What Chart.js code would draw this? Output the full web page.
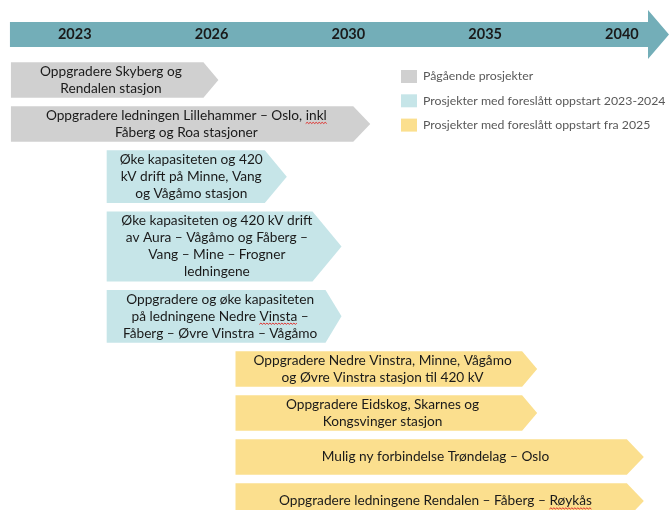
<!DOCTYPE html>
<html>
<head>
<meta charset="utf-8">
<script src="https://cdn.jsdelivr.net/npm/chart.js@4"></script>
<style>
html,body{margin:0;padding:0;background:#ffffff;}
canvas{display:block;}
</style>
</head>
<body>
<canvas id="c" width="669" height="510"></canvas>
<script>
// ---------------- DATA ----------------
const years = [2023, 2026, 2030, 2035, 2040];

const categories = [
  'Pågående prosjekter',
  'Prosjekter med foreslått oppstart 2023-2024',
  'Prosjekter med foreslått oppstart fra 2025'
];

const projects = [
  ['Oppgradere Skyberg og', 'Rendalen stasjon'],
  ['Oppgradere ledningen Lillehammer – Oslo, inkl', 'Fåberg og Roa stasjoner'],
  ['Øke kapasiteten og 420', 'kV drift på Minne, Vang', 'og Vågåmo stasjon'],
  ['Øke kapasiteten og 420 kV drift', 'av Aura – Vågåmo og Fåberg –', 'Vang – Mine – Frogner', 'ledningene'],
  ['Oppgradere og øke kapasiteten', 'på ledningene Nedre Vinsta –', 'Fåberg – Øvre Vinstra – Vågåmo'],
  ['Oppgradere Nedre Vinstra, Minne, Vågåmo', 'og Øvre Vinstra stasjon til 420 kV'],
  ['Oppgradere Eidskog, Skarnes og', 'Kongsvinger stasjon'],
  ['Mulig ny forbindelse Trøndelag – Oslo'],
  ['Oppgradere ledningene Rendalen – Fåberg – Røykås']
];

const projectCategory = [0, 0, 1, 1, 1, 2, 2, 2, 2];
const startYear = [2021.6, 2021.6, 2023.7, 2023.7, 2023.7, 2026.7, 2026.7, 2026.7, 2026.7];
const endYear   = [2026.2, 2030.8, 2028.2, 2029.8, 2029.8, 2036.9, 2036.9, 2040.8, 2040.8];
const timelineRange = [2021.36, 2041.72];

// words marked by the spell checker in the original
const spellMarked = [null, 'inkl', null, null, 'Vinsta', null, null, null, 'Røykås'];

// ---------------- STYLE ----------------
const COLORS = ['#D0D0D0', '#C6E5E8', '#FBDF8E'];
const AXIS_COLOR = '#73AEB8';
const HEAD_DEPTH = [15, 17, 22, 29, 16, 15, 15, 17, 17];
const FONT = 'Lato, "Open Sans", "DejaVu Sans", sans-serif';
const TEXT_SIZE = 13.7;
const LINE_H = 17;
const ROW_GAP = 0.5, ROW_PAD = 0.06;

// piecewise-linear position of a year on the (evenly spaced) timeline
function yearToPos(y) {
  let i;
  if (y <= years[0]) i = 0;
  else if (y >= years[years.length - 1]) i = years.length - 2;
  else { i = 0; while (y > years[i + 1]) i++; }
  return i + (y - years[i]) / (years[i + 1] - years[i]);
}

// row layout in "text line" units
const rows = [];
let cursor = ROW_GAP / 2;
projects.forEach(lines => {
  const h = Math.max(2, lines.length) + ROW_PAD;
  rows.push({ top: cursor, bottom: cursor + h });
  cursor += h + ROW_GAP;
});

const datasets = categories.map((label, c) => ({
  label,
  backgroundColor: COLORS[c],
  grouped: false,
  data: projects
    .map((p, i) => i)
    .filter(i => projectCategory[i] === c)
    .map(i => ({ x: [yearToPos(startYear[i]), yearToPos(endYear[i])], y: (rows[i].top + rows[i].bottom) / 2, idx: i }))
}));

// teal timeline arrow behind the year ticks
const timelineArrow = {
  id: 'timelineArrow',
  beforeDraw(chart) {
    const ctx = chart.ctx, xs = chart.scales.x;
    const left = xs.getPixelForValue(yearToPos(startYear[0])) - 1;
    const right = chart.width;
    const cy = 34.5, hh = 12.5, headH = 24.5, headL = 21;
    ctx.save();
    ctx.fillStyle = AXIS_COLOR;
    ctx.beginPath();
    ctx.moveTo(left, cy - hh);
    ctx.lineTo(right - headL, cy - hh);
    ctx.lineTo(right - headL, cy - headH);
    ctx.lineTo(right, cy);
    ctx.lineTo(right - headL, cy + headH);
    ctx.lineTo(right - headL, cy + hh);
    ctx.lineTo(left, cy + hh);
    ctx.closePath();
    ctx.fill();
    ctx.restore();
  }
};

function squiggle(ctx, x0, x1, y) {
  ctx.save();
  ctx.strokeStyle = '#E0302C';
  ctx.lineWidth = 1;
  ctx.beginPath();
  let up = true;
  ctx.moveTo(x0, y);
  for (let x = x0 + 1.5; x <= x1; x += 1.5) {
    ctx.lineTo(x, up ? y - 1.2 : y);
    up = !up;
  }
  ctx.stroke();
  ctx.restore();
}

// pentagon-shaped bars with centred labels
const arrowBars = {
  id: 'arrowBars',
  beforeDatasetDraw() { return false; },
  afterDatasetsDraw(chart) {
    const ctx = chart.ctx, ys = chart.scales.y;
    chart.data.datasets.forEach((ds, di) => {
      const meta = chart.getDatasetMeta(di);
      meta.data.forEach((el, j) => {
        const i = ds.data[j].idx;
        const { x, base } = el.getProps(['x', 'base'], true);
        const left = Math.min(x, base), right = Math.max(x, base);
        const top = ys.getPixelForValue(rows[i].top);
        const bottom = ys.getPixelForValue(rows[i].bottom);
        const mid = (top + bottom) / 2;
        const d = HEAD_DEPTH[i];
        ctx.save();
        ctx.fillStyle = ds.backgroundColor;
        ctx.beginPath();
        ctx.moveTo(left, top);
        ctx.lineTo(right - d, top);
        ctx.lineTo(right, mid);
        ctx.lineTo(right - d, bottom);
        ctx.lineTo(left, bottom);
        ctx.closePath();
        ctx.fill();

        const lines = projects[i];
        const cx = (left + right - d) / 2 + d * 0.25;
        ctx.font = TEXT_SIZE + 'px ' + FONT;
        ctx.fillStyle = '#1A1A1A';
        ctx.textAlign = 'center';
        ctx.textBaseline = 'middle';
        lines.forEach((line, k) => {
          const ly = mid + (k - (lines.length - 1) / 2) * LINE_H;
          ctx.fillText(line, cx, ly);
          const w = spellMarked[i];
          const pos = w ? line.indexOf(w) : -1;
          if (pos >= 0) {
            const full = ctx.measureText(line).width;
            const sx = cx - full / 2 + ctx.measureText(line.slice(0, pos)).width;
            const ww = ctx.measureText(w).width;
            squiggle(ctx, sx, sx + ww, ly + 8);
          }
        });
        ctx.restore();
      });
    });
  }
};

// legend inside the plot, upper right
const boxLegend = {
  id: 'boxLegend',
  afterDraw(chart) {
    const ctx = chart.ctx;
    const x0 = 401, y0 = 76.5, step = 24.3;
    ctx.save();
    chart.data.datasets.forEach((ds, k) => {
      const cy = y0 + k * step;
      ctx.fillStyle = ds.backgroundColor;
      ctx.fillRect(x0, cy - 6.5, 16, 13);
      ctx.fillStyle = '#595959';
      ctx.font = '12.3px ' + FONT;
      ctx.textAlign = 'left';
      ctx.textBaseline = 'middle';
      ctx.fillText(ds.label, x0 + 22, cy);
    });
    ctx.restore();
  }
};

new Chart(document.getElementById('c'), {
  type: 'bar',
  data: { datasets },
  options: {
    indexAxis: 'y',
    responsive: false,
    animation: false,
    devicePixelRatio: 1,
    layout: { padding: 0 },
    plugins: { legend: { display: false }, tooltip: { enabled: false } },
    scales: {
      x: {
        type: 'linear',
        position: 'top',
        min: yearToPos(timelineRange[0]),
        max: yearToPos(timelineRange[1]),
        afterFit(scale) { scale.height = 58; },
        afterBuildTicks(scale) { scale.ticks = years.map((y, i) => ({ value: i })); },
        ticks: {
          callback: (v) => years[v],
          font: { family: FONT, size: 14.5, weight: 'bold' },
          color: '#1A1A1A',
          padding: 15,
          autoSkip: false,
          maxRotation: 0
        },
        grid: { display: false, drawTicks: false },
        border: { display: false }
      },
      y: {
        type: 'linear',
        display: false,
        reverse: true,
        offset: false,
        min: 0,
        max: 26.28
      }
    }
  },
  plugins: [timelineArrow, arrowBars, boxLegend]
});
</script>
</body>
</html>
